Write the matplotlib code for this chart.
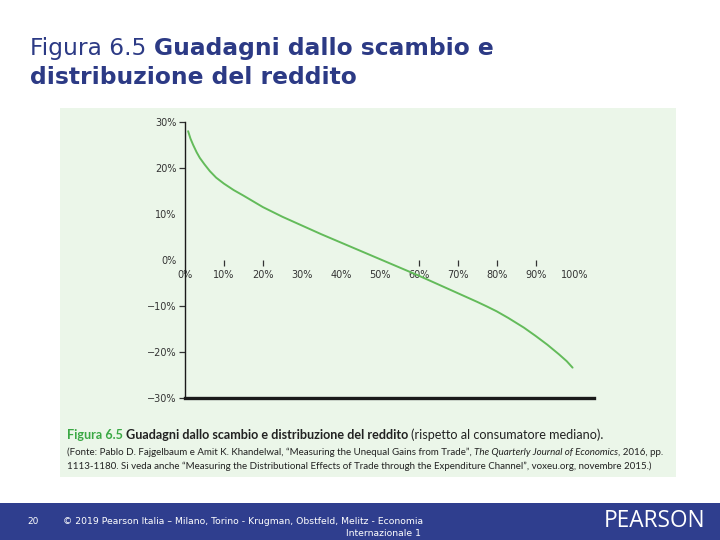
import matplotlib
matplotlib.use("Agg")
import matplotlib.pyplot as plt
from matplotlib.patches import Rectangle

# percentile of income distribution (%) and gains relative to median consumer (%)
percentile = [0.8, 1.4, 2.1, 3.0, 3.8, 5.0, 6.4, 8.0, 10, 12.5, 15, 20, 25, 30, 35, 40, 45, 50,
              55, 60, 65, 70, 75, 77.5, 80, 83, 87, 90, 93, 96, 98, 99.5]
gains = [28.0, 26.4, 25.0, 23.4, 22.2, 20.8, 19.3, 17.9, 16.6, 15.2, 14.0, 11.5, 9.4, 7.5, 5.6, 3.8,
         2.0, 0.2, -1.6, -3.4, -5.3, -7.2, -9.1, -10.1, -11.15, -12.6, -14.7, -16.5, -18.4, -20.5,
         -22.0, -23.4]

x_ticks = [0, 10, 20, 30, 40, 50, 60, 70, 80, 90, 100]
x_tick_marks = [10, 20, 60, 70, 80, 90]
y_ticks = [30, 20, 10, 0, -10, -20, -30]
y_tick_marks = [30, 20, -10, -20, -30]

W, H = 720, 540
NAVY = "#2c3a85"
fig = plt.figure(figsize=(7.2, 5.4), dpi=100)
fig.patch.set_facecolor("white")


def fx(px):
    return px / W


def fy(py):
    return 1 - py / H


# green panel and footer band
fig.patches.append(Rectangle((fx(60), fy(477)), fx(616), 369 / H, transform=fig.transFigure,
                             facecolor="#ebf6e9", edgecolor="none", zorder=-1))
fig.patches.append(Rectangle((0, 0), 1, 37 / H, transform=fig.transFigure,
                             facecolor="#2f3e8e", edgecolor="none", zorder=-1))

ax = fig.add_axes([fx(185), fy(398), 409 / W, 276 / H])
ax.set_zorder(2)
ax.set_facecolor("none")
ax.plot(percentile, gains, color="#63bb5a", lw=1.4, solid_capstyle="round")
ax.axhline(-30, color="#1a1a1a", lw=2.4, zorder=3, clip_on=False)
ax.set_xlim(0, 105)
ax.set_ylim(-30, 30)

for s in ["top", "right"]:
    ax.spines[s].set_visible(False)
ax.spines["left"].set_linewidth(1.0)
ax.spines["left"].set_color("#1a1a1a")
ax.spines["bottom"].set_position(("data", 0))
ax.spines["bottom"].set_color("none")

ax.xaxis.remove_overlapping_locs = False
ax.yaxis.remove_overlapping_locs = False
ax.set_xticks(x_ticks)
ax.set_xticklabels([f"{v}%" for v in x_ticks])
ax.set_xticks(x_tick_marks, minor=True)
ax.set_yticks(y_ticks)
ax.set_yticklabels([f"{v}%".replace("-", "\u2212") for v in y_ticks])
ax.set_yticks(y_tick_marks, minor=True)
ax.tick_params(axis="x", which="major", length=0, pad=7, labelsize=7, labelcolor="#333333")
ax.tick_params(axis="x", which="minor", length=4, width=0.9, color="#333333")
ax.tick_params(axis="y", which="major", length=0, pad=6, labelsize=7, labelcolor="#333333")
ax.tick_params(axis="y", which="minor", length=4, width=0.9, color="#333333")

renderer = fig.canvas.get_renderer()


def pieces(x, y, parts, size, family):
    # draw text parts one after another on the same line (pixel coords)
    xpos = fx(x)
    for txt, weight, style, color in parts:
        t = fig.text(xpos, fy(y), txt, fontsize=size, fontweight=weight, fontstyle=style,
                     color=color, family=family, va="baseline", ha="left")
        bb = t.get_window_extent(renderer=renderer)
        xpos += bb.width / W


# slide title
pieces(30, 55, [("Figura 6.5 ", "normal", "normal", NAVY),
                ("Guadagni dallo scambio e", "bold", "normal", NAVY)], 16.8, "DejaVu Sans")
pieces(30, 84, [("distribuzione del reddito", "bold", "normal", NAVY)], 16.8, "DejaVu Sans")

# caption inside the panel
pieces(67, 439, [("Figura 6.5 ", "bold", "normal", "#3aa844"),
                 ("Guadagni dallo scambio e distribuzione del reddito ", "bold", "normal", "#222222"),
                 ("(rispetto al consumatore mediano).", "normal", "normal", "#222222")], 9.1, "Lato")
pieces(67, 455, [("(Fonte: Pablo D. Fajgelbaum e Amit K. Khandelwal, \u201cMeasuring the Unequal Gains from Trade\u201d, ",
                  "normal", "normal", "#222222"),
                 ("The Quarterly Journal of Economics", "normal", "italic", "#222222"),
                 (", 2016, pp.", "normal", "normal", "#222222")], 7.05, "Lato")
pieces(67, 469, [("1113-1180. Si veda anche \u201cMeasuring the Distributional Effects of Trade through the "
                  "Expenditure Channel\u201d, voxeu.org, novembre 2015.)", "normal", "normal", "#222222")], 7.05, "Lato")

# footer
fig.text(fx(33), fy(522), "20", fontsize=6.5, color="white", ha="center", va="center")
fig.text(fx(63), fy(521), "\u00a9 2019 Pearson Italia \u2013 Milano, Torino - Krugman, Obstfeld, Melitz - Economia",
         fontsize=6.65, color="white", ha="left", va="center")
fig.text(fx(421), fy(533), "Internazionale 1", fontsize=6.65, color="white", ha="right", va="center")
fig.text(fx(705), fy(521), "PEARSON", fontsize=16.3, color="white", ha="right", va="center",
         family="Open Sans")

fig.savefig("out.png", dpi=100)
